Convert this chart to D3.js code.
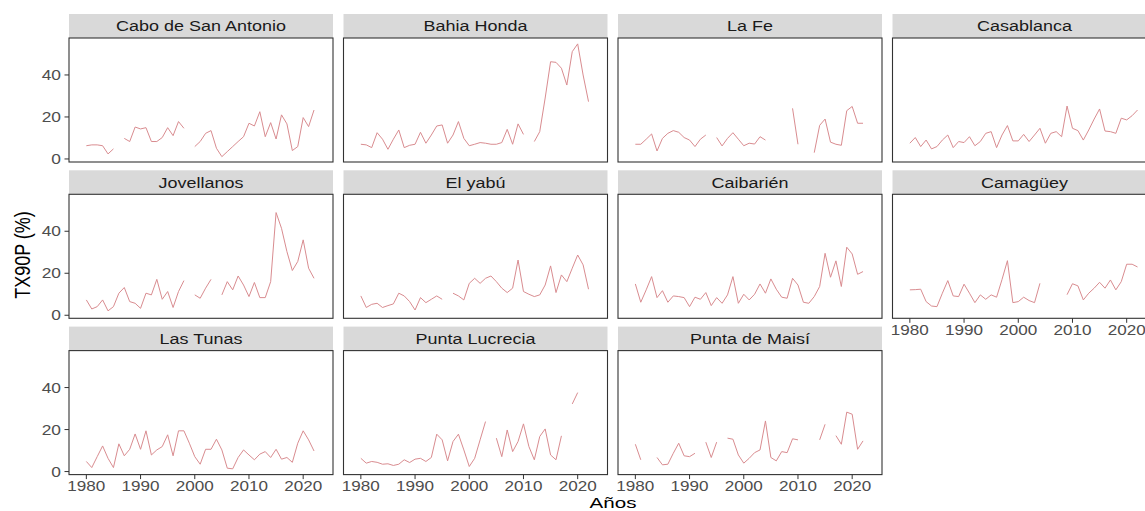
<!DOCTYPE html>
<html>
<head>
<meta charset="utf-8">
<script src="https://cdn.jsdelivr.net/npm/d3@7"></script>
<style>
  html, body { margin: 0; padding: 0; background: #fff; overflow: hidden; }
  svg { display: block; font-family: "Liberation Sans", Arial, sans-serif; }
</style>
</head>
<body>
<svg id="chart" width="1145" height="511"></svg>
<script>
const years = d3.range(1980, 2023);
const stations = ["Cabo de San Antonio", "Bahia Honda", "La Fe", "Casablanca",
  "Jovellanos", "El yabú", "Caibarién", "Camagüey",
  "Las Tunas", "Punta Lucrecia", "Punta de Maisí"];

const caboSanAntonio = [6.3,6.7,6.7,6.3,2.4,4.8,null,9.8,8.3,15.2, 14.3,14.9,8.3,8.3,10.2,14.9,11.1,17.8,14.6,null, 5.9,8.3,12.2,13.5,5.1,1.1,3.5,5.9,8.3,10.6, 17,15.7,22.5,10.6,17.3,9.5,21,16.7,4,5.9, 19.7,15.4,23.3];
const bahiaHonda = [7,6.7,5.4,12.5,9.4,4.6,9.4,13.8,5.4,6.5, 7,12.7,7.5,11.4,15.7,16.2,7.5,11.4,17.8,9.8, 6.3,7,7.8,7.5,7,7,7.8,14.1,7,16.7, 11.7,null,8.3,13,29,46.3,46,43.2,35.2,51.1, 54.8,40,27.3];
const laFe = [7,7,9.4,11.9,3.8,9.8,12.2,13.5,12.7,10.2, 9,5.9,9.4,11.4,null,10.2,6.2,9.8,12.5,9.4, 6.3,7.5,7.1,10.6,9,null,null,null,null,24.1, 7,null,null,3,16,19,8,7,6.5,23, 25,17,17];
const casablanca = [7.5,10.2,5.9,9,4.8,5.9,9,11.4,5.4,8.3, 7.8,10.6,6.3,8.3,12.2,13,5.4,11.4,15.9,8.6, 8.6,11.7,8.3,11.4,14.6,7.5,12.2,13,10.6,25.2, 14.6,13.5,9,13.8,19,23.8,13.3,13,12.2,19.4, 18.6,20.6,23.3];
const jovellanos = [7.3,3,4.1,7.3,2.1,4.1,10.5,13.2,6.5,5.7, 3.3,10.5,9.7,17.1,7.6,11.3,3.7,11.3,16.5,null, 9.7,8.1,12.9,17.1,null,9.7,16,12.1,18.7,14.4, 8.9,15.6,8.4,8.4,16,48.9,41.4,30.3,21.3,25.6, 35.9,22.4,17.6];
const elYabu = [9.2,3.7,5.2,5.7,3.7,4.6,5.4,10.5,9.2,6.5, 2.5,8.4,6,7.6,9.2,7.6,null,10.5,9.2,7.3, 15.2,17.6,15.2,17.6,18.7,16,12.9,10.8,12.9,26.3, 11.3,10,8.9,9.7,14.4,23.5,10.8,19.2,16,22.4, 28.7,24,12.4];
const caibarien = [14.9,6.2,12.1,18.4,8.4,11.7,6.2,9.2,8.9,8.4, 4.1,8.6,7.6,10.8,4.6,8.4,5.7,9.7,18.4,5.7, 10,7.3,10,14.9,10.5,17.3,12.4,8.6,8.1,17.6, 14.4,6.2,5.7,8.9,13.7,29.5,18.1,25.9,13.7,32.4, 29.2,19.5,20.8];
const camaguey = [12.1,12.2,12.4,6.5,4.4,4.1,10.5,16.5,9.2,8.9, 14.8,10.5,6,9.7,7.6,9.7,8.6,17,26,6, 6.5,8.6,7,6,15.2,null,null,null,null,9.8, 15,14,7.3,10.5,12.9,15.7,12.9,16.8,12.1,16, 24.3,24.3,23];
const lasTunas = [4.8,1.9,7.1,12.2,6.3,1.9,13.2,7.5,10.6,17.9, 10.6,19.4,7.9,10.3,11.9,17.5,7.5,19.4,19.4,13.5, 7.1,3.5,10.6,10.6,15.4,10.3,1.6,1.3,6.7,10.3, 7.9,5.6,8.3,9.5,6.7,10.6,5.9,6.7,4.4,13.5, 19.4,15.1,9.8];
const puntaLucrecia = [6.3,4,4.8,4.4,3.5,3.7,2.9,3.5,5.6,4.3, 5.9,6.3,4.8,6.7,17.8,15.1,5.1,14.3,17.8,10.3, 2.4,6.3,15.1,23.8,null,15.9,7.1,19.8,9.5,14.3, 22.7,11.9,5.6,16.7,20.3,7.9,5.6,17,null,32.2, 37.6,null,null];
const puntaMaisi = [13,5.6,null,null,6.7,3.2,3.5,8.7,13.5,7.5, 7.1,8.7,null,14,6.7,14,null,15.9,15.4,7.9, 4,6.3,9,10.3,24.1,6.7,5.1,9.5,9,15.6, 15.1,null,null,null,15.1,22.5,null,17.1,13,28.3, 27.3,10.6,14.6];

const seriesValues = [caboSanAntonio, bahiaHonda, laFe, casablanca, jovellanos, elYabu,
  caibarien, camaguey, lasTunas, puntaLucrecia, puntaMaisi];
const yTicks = [0, 20, 40];
const xTicks = [1980, 1990, 2000, 2010, 2020];
const yTitle = "TX90P (%)";
const xTitle = "Años";

// ---- layout ----
const S = 1.24;                 // horizontal text stretch of the reference image
const colLeft = [69, 343.5, 618, 892.5];
const panelW = 264;
const panelH = 124;
const stripH = 24;
const firstBottom = 162;
const rowPitch = 156.3;
const ncol = 4;
const lineColor = "#d98c90";

const svg = d3.select("#chart");
const x = d3.scaleLinear().domain([1976.8, 2025.5]).range([0, panelW]);
const y = d3.scaleLinear().domain([-1.45, 57.6]).range([panelH, 0]);
const line = d3.line().defined(d => d.v !== null).x(d => x(d.yr)).y(d => y(d.v));

function stretchedText(g, tx, ty, txt, size, anchor, fill, extra, sx) {
  return g.append("text")
    .attr("transform", `translate(${tx},${ty}) scale(${sx || S},1)` + (extra || ""))
    .attr("text-anchor", anchor)
    .attr("font-size", size)
    .attr("fill", fill)
    .text(txt);
}

stations.forEach((name, i) => {
  const r = Math.floor(i / ncol), c = i % ncol;
  const bottom = firstBottom + r * rowPitch;
  const top = bottom - panelH;
  const left = colLeft[c];
  const g = svg.append("g").attr("transform", `translate(${left},${top})`);

  // strip
  g.append("rect").attr("x", 0).attr("y", -stripH).attr("width", panelW).attr("height", stripH)
    .attr("fill", "#d9d9d9");
  stretchedText(g, panelW / 2, -stripH / 2 + 5.2, name, 14.5, "middle", "#1a1a1a");

  // panel bg
  g.append("rect").attr("width", panelW).attr("height", panelH).attr("fill", "#fff");

  const data = years.map((yr, k) => ({ yr, v: seriesValues[i][k] }));
  g.append("path").datum(data).attr("d", line)
    .attr("fill", "none").attr("stroke", lineColor).attr("stroke-width", 1)
    .attr("stroke-linejoin", "round");

  // border
  g.append("rect").attr("width", panelW).attr("height", panelH)
    .attr("fill", "none").attr("stroke", "#333333").attr("stroke-width", 1.1);

  // y axis
  if (c === 0) {
    const ya = g.append("g");
    yTicks.forEach(t => {
      ya.append("line").attr("x1", -4.5).attr("x2", 0).attr("y1", y(t)).attr("y2", y(t))
        .attr("stroke", "#333333").attr("stroke-width", 1);
      stretchedText(ya, -8, y(t) + 5, t, 14, "end", "#4d4d4d");
    });
  }
  // x axis: bottom row, or panels with nothing below
  const hasBelow = (i + ncol) < stations.length;
  if (!hasBelow) {
    const xa = g.append("g").attr("transform", `translate(0,${panelH})`);
    xTicks.forEach(t => {
      xa.append("line").attr("x1", x(t)).attr("x2", x(t)).attr("y1", 0).attr("y2", 4.5)
        .attr("stroke", "#333333").attr("stroke-width", 1);
      stretchedText(xa, x(t), 16.5, t, 13.8, "middle", "#4d4d4d");
    });
  }
});

// axis titles
stretchedText(svg, 30, 255, yTitle, 18, "middle", "#000", " rotate(-90)");
stretchedText(svg, 613, 507.8, xTitle, 14.5, "middle", "#000", "", 1.42);
</script>
</body>
</html>
